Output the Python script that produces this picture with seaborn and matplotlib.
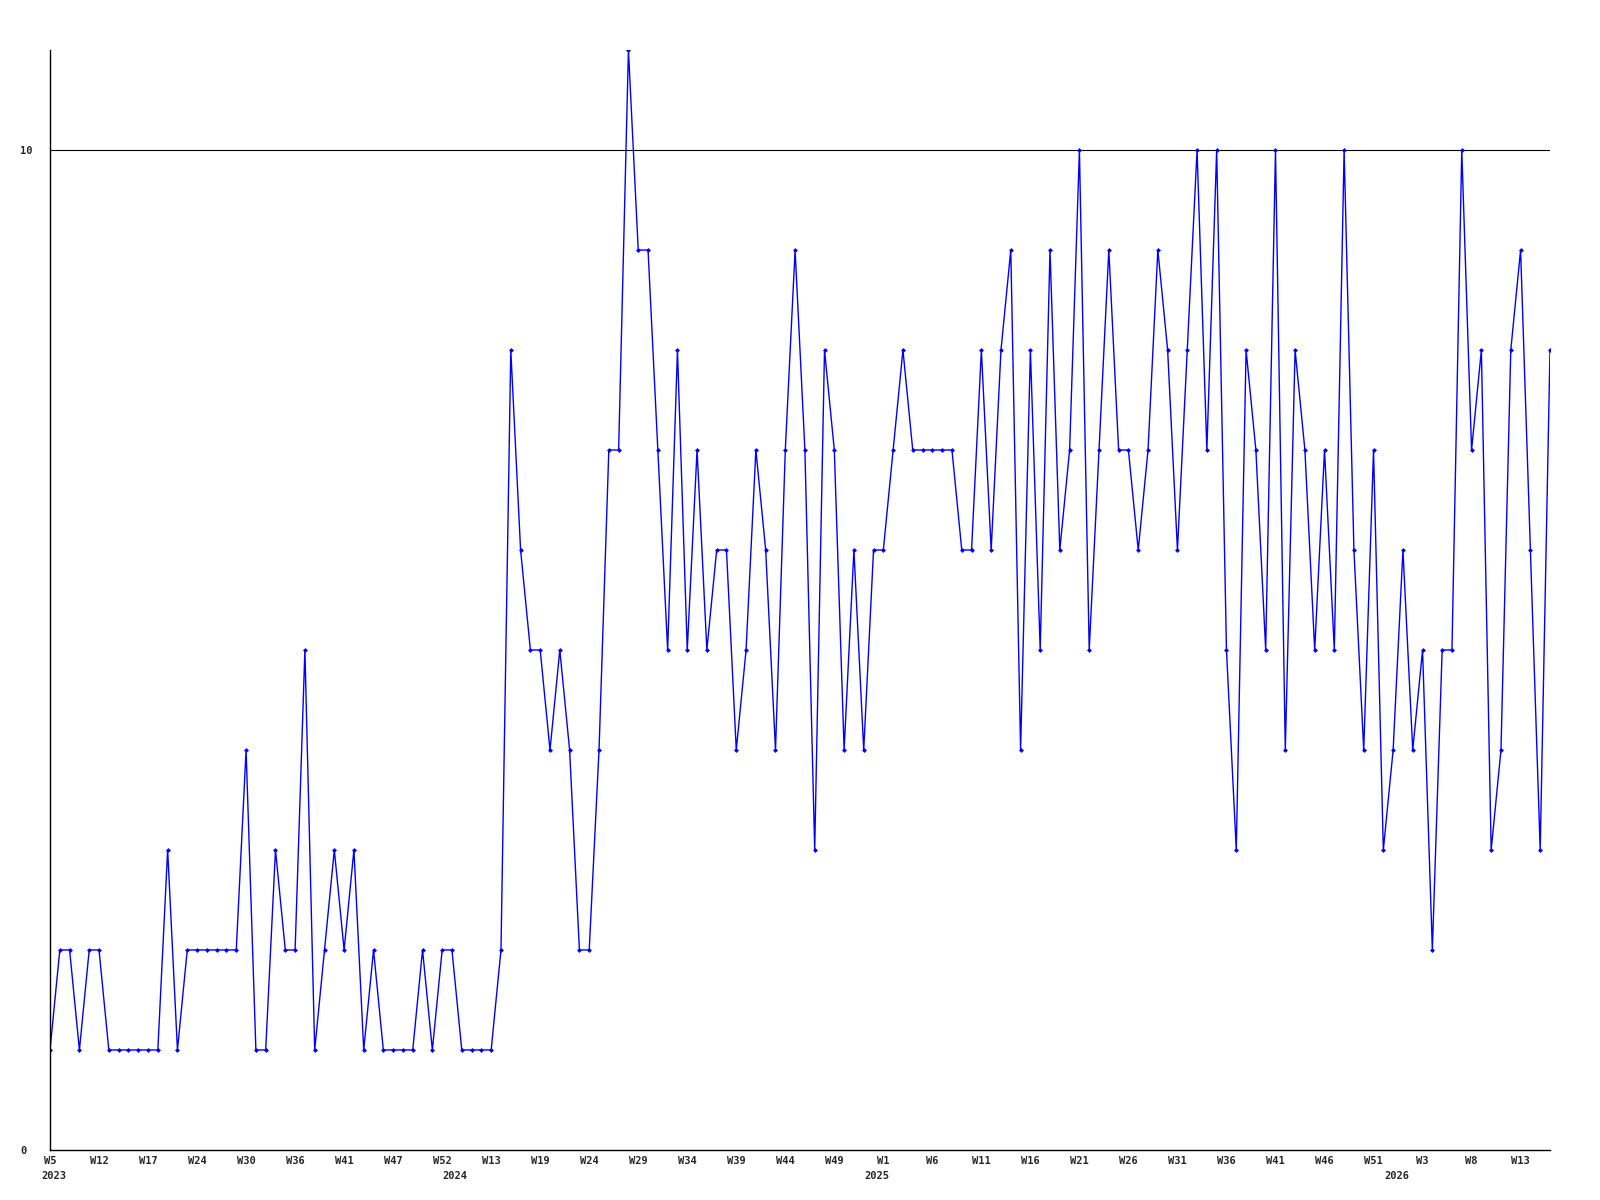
import numpy as np
import pandas as pd
import matplotlib
matplotlib.use('Agg')
import matplotlib.pyplot as plt
import matplotlib.transforms as mtransforms
import seaborn as sns

# weekly counts, one value per point
values = [1, 2, 2, 1, 2, 2, 1, 1, 1, 1, 1, 1, 3, 1, 2, 2, 2, 2, 2, 2,
          4, 1, 1, 3, 2, 2, 5, 1, 2, 3, 2, 3, 1, 2, 1, 1, 1, 1, 2, 1,
          2, 2, 1, 1, 1, 1, 2, 8, 6, 5, 5, 4, 5, 4, 2, 2, 4, 7, 7, 11,
          9, 9, 7, 5, 8, 5, 7, 5, 6, 6, 4, 5, 7, 6, 4, 7, 9, 7, 3, 8,
          7, 4, 6, 4, 6, 6, 7, 8, 7, 7, 7, 7, 7, 6, 6, 8, 6, 8, 9, 4,
          8, 5, 9, 6, 7, 10, 5, 7, 9, 7, 7, 6, 7, 9, 8, 6, 8, 10, 7, 10,
          5, 3, 8, 7, 5, 10, 4, 8, 7, 5, 7, 5, 10, 6, 4, 7, 3, 4, 6, 4,
          5, 2, 5, 5, 10, 7, 8, 3, 4, 8, 9, 6, 3, 8]

week_labels = ['W5', 'W12', 'W17', 'W24', 'W30', 'W36', 'W41', 'W47', 'W52', 'W13',
               'W19', 'W24', 'W29', 'W34', 'W39', 'W44', 'W49', 'W1', 'W6', 'W11',
               'W16', 'W21', 'W26', 'W31', 'W36', 'W41', 'W46', 'W51', 'W3', 'W8', 'W13']
years = ['2023', '2024', '2025', '2026']
year_pos = [0.35, 41.25, 84.3, 137.4]
ref_level = 10

df = pd.DataFrame({'idx': np.arange(len(values)), 'value': values})

sns.set_style('white')
fig = plt.figure(figsize = (16, 12), dpi = 100)
ax = fig.add_axes([0.03125, 0.0417, 0.9375, 0.9166])

sns.lineplot(data = df, x = 'idx', y = 'value', ax = ax, color = '#0000ff', linewidth = 1,
             marker = 'D', markersize = 2.5, markeredgewidth = 0, markerfacecolor = '#0000ff')
ax.axhline(ref_level, color = 'black', linewidth = 0.8, zorder = 0)

ax.set_xlim(0, len(values) - 1)
ax.set_ylim(0, 11)
ax.set_xlabel(''); ax.set_ylabel('')

fnt = dict(family = 'DejaVu Sans Mono', weight = 'bold', size = 7.5)
ax.set_xticks(np.arange(0, len(values), 5)[:len(week_labels)])
ax.set_xticklabels(week_labels, **fnt)
ax.set_yticks([0, ref_level])
ax.set_yticklabels(['0', '10'], **fnt)
for lbl in ax.get_yticklabels():
    lbl.set_horizontalalignment('left')
ax.tick_params(axis = 'both', length = 0, pad = 4)
ax.tick_params(axis = 'y', pad = 21.6)

trans = mtransforms.blended_transform_factory(ax.transData, ax.transAxes)
for y, p in zip(years, year_pos):
    ax.text(p, -0.024, y, transform = trans, ha = 'center', va = 'center', **fnt)

for s in ['top', 'right']:
    ax.spines[s].set_visible(False)
for s in ['left', 'bottom']:
    ax.spines[s].set_color('black')
    ax.spines[s].set_linewidth(1)

fig.savefig('out.png', dpi = 100, facecolor = 'white')
